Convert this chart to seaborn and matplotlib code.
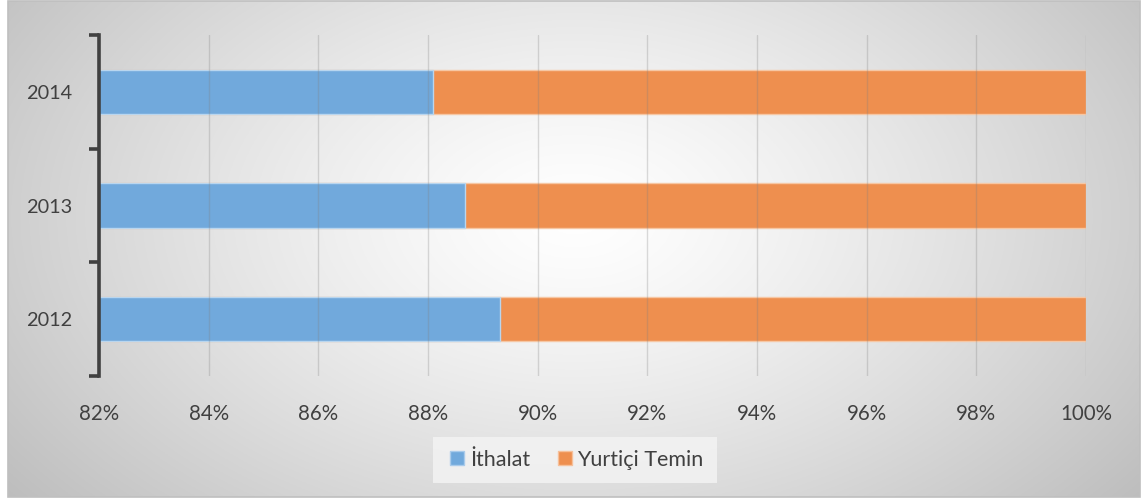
import numpy as np
import pandas as pd
import matplotlib
matplotlib.use("Agg")
import matplotlib.pyplot as plt
from matplotlib.patches import Rectangle
from matplotlib.lines import Line2D
import seaborn as sns

years = ["2014", "2013", "2012"]
ithalat = [88.09, 88.67, 89.31]
yurtici_total = [100.0, 100.0, 100.0]
x_ticks = [82, 84, 86, 88, 90, 92, 94, 96, 98, 100]
x_tick_labels = ["82%", "84%", "86%", "88%", "90%", "92%", "94%", "96%", "98%", "100%"]
series_names = ["İthalat", "Yurtiçi Temin"]

sns.set_theme(style="white")
plt.rcParams["font.family"] = ["Lato", "DejaVu Sans"]

W, H = 1143, 498
fig = plt.figure(figsize=(W / 100, H / 100), dpi=100)
fig.patch.set_facecolor("white")

# background radial gradient
bg = fig.add_axes([8 / W, 1 / H, (1140 - 8) / W, (497 - 1) / H], zorder=0)
yy, xx = np.mgrid[0:300, 0:700]
cx, cy = 350, 130
r = np.sqrt(((xx - cx) / 420.0) ** 2 + ((yy - cy) / 260.0) ** 2)
v = np.clip(1.0 - 0.24 * r ** 1.3, 0, 1)
img = np.dstack([v, v, v])
bg.imshow(img, aspect="auto", extent=[0, 1, 0, 1], origin="upper")
bg.set_xlim(0, 1)
bg.set_ylim(0, 1)
bg.axis("off")
bg.add_patch(Rectangle((0, 0), 1, 1, transform=bg.transAxes, fill=False,
                       edgecolor="#bfbfbf", linewidth=1.2, clip_on=False))

ax = fig.add_axes([99 / W, (H - 376) / H, (1086 - 99) / W, (376 - 35) / H], zorder=1)
ax.patch.set_alpha(0)

df = pd.DataFrame({"year": years, "ithalat": ithalat, "total": yurtici_total})

blue = "#71a9dc"
orange = "#ee8f4f"
sns.barplot(data=df, x="total", y="year", orient="h", color=orange, width=0.39,
            edgecolor="#f6c7a4", linewidth=1.0, ax=ax, saturation=1, zorder=2)
sns.barplot(data=df, x="ithalat", y="year", orient="h", color=blue, width=0.39,
            edgecolor="#b9d6ef", linewidth=1.0, ax=ax, saturation=1, zorder=3)

ax.set_xlim(82, 100)
ax.set_ylim(2.5, -0.5)
ax.set_xticks(x_ticks)
ax.set_xticklabels(x_tick_labels)
ax.set_xlabel("")
ax.set_ylabel("")

# grid lines on top (semi transparent)
for t in x_ticks[1:]:
    ax.axvline(t, color="#808080", alpha=0.28, linewidth=1.0, zorder=4)

for s in ["top", "right", "bottom"]:
    ax.spines[s].set_visible(False)
ax.spines["left"].set_color("#404040")
ax.spines["left"].set_linewidth(2.6)
ax.spines["left"].set_zorder(5)

ax.tick_params(axis="x", length=0, pad=20, labelsize=14.8, labelcolor="#404040")
ax.tick_params(axis="y", which="major", left=False, length=0, pad=19.5, labelsize=14.3,
               labelcolor="#404040")
ax.set_yticks([-0.5, 0.5, 1.5, 2.5], minor=True)
ax.tick_params(axis="y", which="minor", left=True, length=7, width=2.6, color="#404040",
               direction="out")

handles = [Line2D([0], [0], marker="s", linestyle="", markersize=10, markerfacecolor=blue,
                  markeredgecolor="#a9cbeb", markeredgewidth=1),
           Line2D([0], [0], marker="s", linestyle="", markersize=10, markerfacecolor=orange,
                  markeredgecolor="#f6c09a", markeredgewidth=1)]
leg = fig.legend(handles, series_names, loc="center", bbox_to_anchor=(575 / W, 1 - 460 / H),
                 ncol=2, frameon=True, fontsize=15.5, handletextpad=0.1, columnspacing=1.1,
                 handlelength=1.0, borderpad=0.6)
leg.get_frame().set_facecolor("#f4f4f4")
leg.get_frame().set_edgecolor("none")
leg.get_frame().set_boxstyle("square", pad=0)
for t in leg.get_texts():
    t.set_color("#404040")

fig.savefig("out.png", dpi=100)
